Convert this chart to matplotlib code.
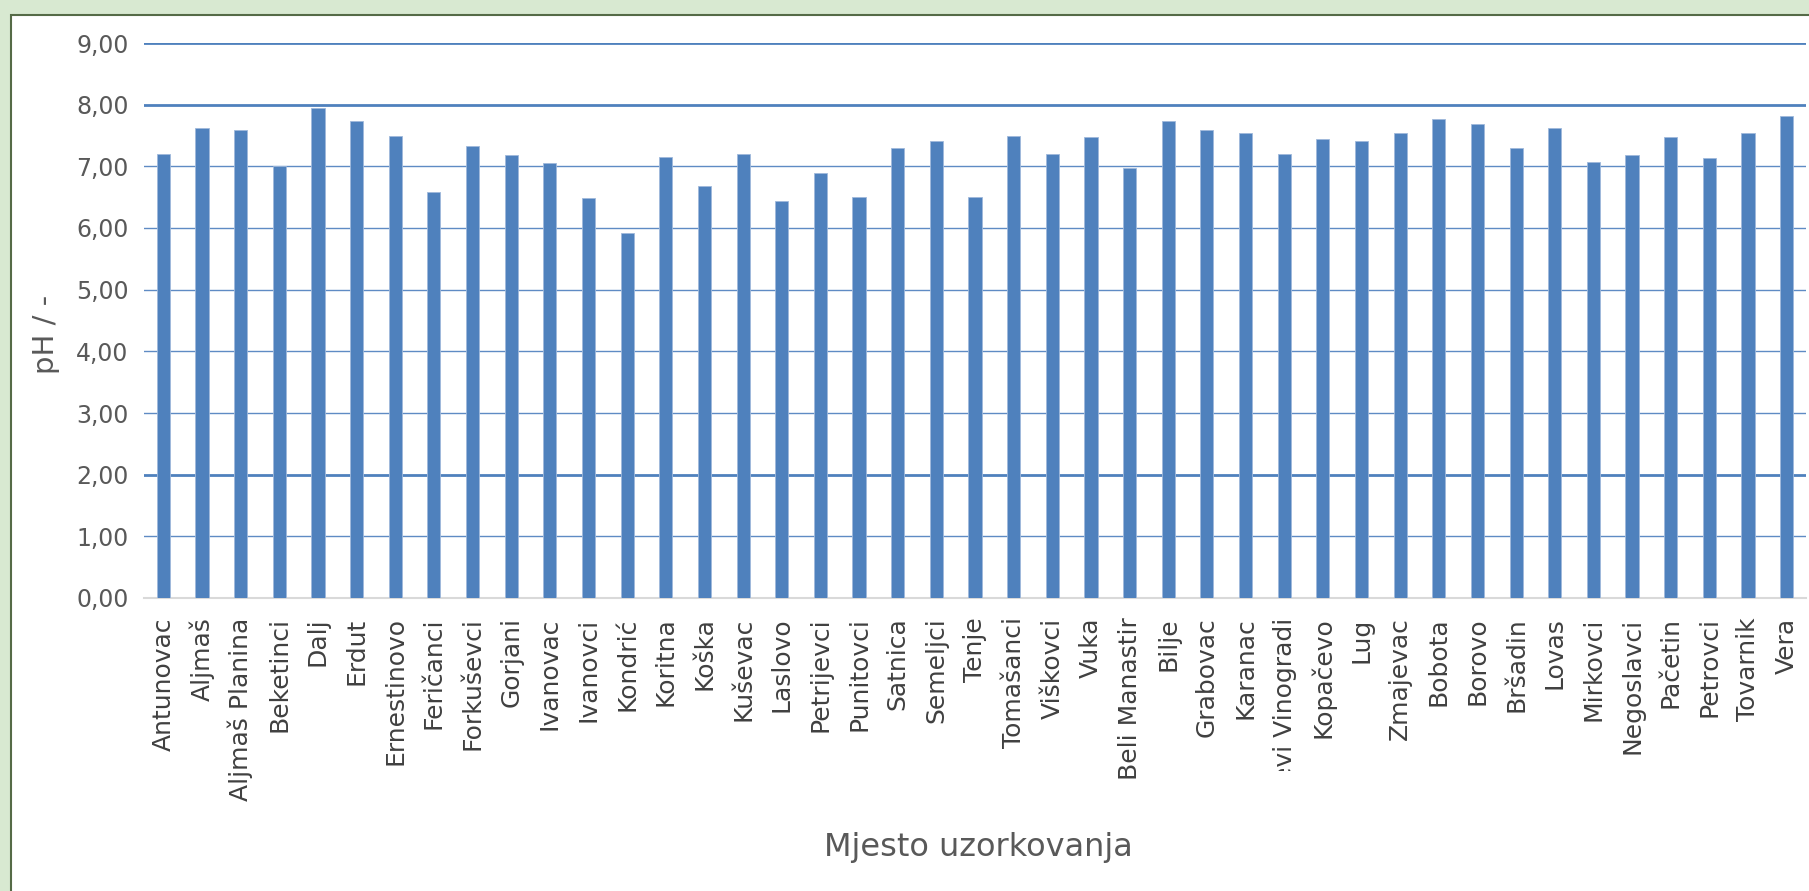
# pH po mjestima uzorkovanja - stupcasti graf

import matplotlib.pyplot as plt
from matplotlib.patches import Rectangle
from matplotlib.transforms import Bbox

# Podaci
mjesta = ['Antunovac', 'Aljmaš', 'Aljmaš Planina', 'Beketinci', 'Dalj', 'Erdut',
          'Ernestinovo', 'Feričanci', 'Forkuševci', 'Gorjani', 'Ivanovac', 'Ivanovci',
          'Kondrić', 'Koritna', 'Koška', 'Kuševac', 'Laslovo', 'Petrijevci',
          'Punitovci', 'Satnica', 'Semeljci', 'Tenje', 'Tomašanci', 'Viškovci', 'Vuka',
          'Beli Manastir', 'Bilje', 'Grabovac', 'Karanac', 'Kneževi Vinogradi',
          'Kopačevo', 'Lug', 'Zmajevac', 'Bobota', 'Borovo', 'Bršadin', 'Lovas',
          'Mirkovci', 'Negoslavci', 'Pačetin', 'Petrovci', 'Tovarnik', 'Vera']
ph = [7.20, 7.62, 7.59, 7.00, 7.94, 7.74, 7.49, 6.58, 7.33, 7.18, 7.05, 6.48,
      5.92, 7.15, 6.68, 7.20, 6.44, 6.90, 6.51, 7.30, 7.41, 6.51, 7.49, 7.20, 7.47,
      6.97, 7.74, 7.59, 7.54, 7.20, 7.45, 7.41, 7.54, 7.77, 7.68, 7.30, 7.62,
      7.07, 7.18, 7.47, 7.13, 7.54, 7.81]
y_ticks = [0, 1, 2, 3, 4, 5, 6, 7, 8, 9]

plave = '#4F81BD'
siva = '#595959'

fig = plt.figure(figsize=(18.09, 8.91), dpi=100, facecolor='#D8E9D1')
# bijela ploha s tamnim rubom (lijevo i gore)
fig.patches.append(Rectangle((11/1809, -0.05), 1.0, 1.05 - 15/891, transform=fig.transFigure,
                             facecolor='white', edgecolor='#556B47', linewidth=1.5, zorder=-10))

ax = fig.add_axes([144/1809, 1 - 598/891, 1662/1809, 555/891])
ax.set_facecolor('none')

x = range(len(mjesta))
ax.bar(x, ph, width=0.34, color=plave, edgecolor='#9FB9DB', linewidth=0.6, zorder=3)

ax.set_xlim(-0.5, len(mjesta) - 0.5)
ax.set_ylim(0, 9)
ax.set_yticks(y_ticks)
ax.set_yticklabels([('%.2f' % v).replace('.', ',') for v in y_ticks])
ax.set_xticks(list(x))
ax.set_xticklabels(mjesta, rotation=90, ha='center', va='top')

ax.tick_params(axis='y', length=0, pad=11, labelsize=17, labelcolor=siva)
ax.tick_params(axis='x', length=0, pad=14, labelsize=18, labelcolor='#404040')

# mreza
ax.yaxis.grid(True, color='#5F8BC4', linewidth=1.0, zorder=1)
for v, gl in zip(y_ticks, ax.get_ygridlines()):
    if v in (2, 8, 9):
        gl.set_linewidth(2.0)
        gl.set_color(plave)
    if v == 0:
        gl.set_visible(False)
ax.set_axisbelow(True)

for s in ['top', 'right', 'left']:
    ax.spines[s].set_visible(False)
ax.spines['bottom'].set_color('#D9D9D9')
ax.spines['bottom'].set_linewidth(1.5)

# predugi naziv je u originalu odrezan
clip = Bbox.from_extents(0, 891 - 771, 1809, 891)
for lbl in ax.get_xticklabels():
    if lbl.get_text() == 'Kneževi Vinogradi':
        lbl.set_clip_box(clip)
        lbl.set_clip_on(True)

ax.set_xlabel('Mjesto uzorkovanja', fontsize=23, color=siva, va='center')
ax.xaxis.set_label_coords(0.502, -0.45)
ax.set_ylabel('pH / -', fontsize=21, color=siva, va='center')
ax.yaxis.set_label_coords(-0.059, 0.474)

plt.savefig('out.png', dpi=100, facecolor=fig.get_facecolor())
